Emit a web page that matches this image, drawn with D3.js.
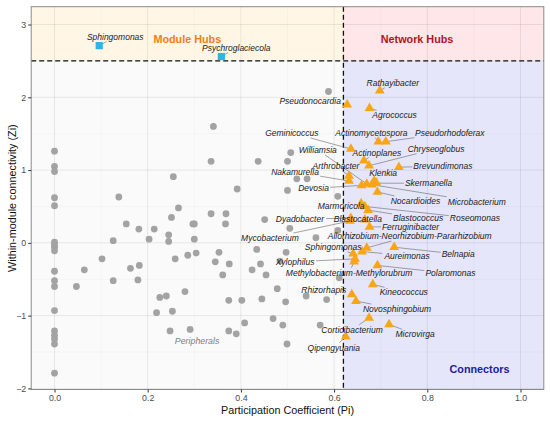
<!DOCTYPE html>
<html>
<head>
<meta charset="utf-8">
<script src="https://cdn.jsdelivr.net/npm/d3@7.9.0/dist/d3.min.js"></script>
<style>
  body { margin: 0; background: #fff; }
  text { font-family: "Liberation Sans", Arial, sans-serif; }
</style>
</head>
<body>
<div id="chart"></div>
<script>
// axis ticks
const xTicks = [0, 0.2, 0.4, 0.6, 0.8, 1.0];
const yTicks = [-2, -1, 0, 1, 2, 3];
const piCut = 0.62;
const ziCut = 2.5;

// peripherals (grey circles)
const peripheralPi = [
  0, 0, 0, 0, 0, 0, 0, 0, 0, 0, 0, 0, 0, 0, 0, 0, 0, 0,
  0.047, 0.064, 0.102, 0.126, 0.126, 0.138, 0.154, 0.163, 0.181, 0.182,
  0.179, 0.203, 0.214, 0.219, 0.226, 0.240, 0.245, 0.245, 0.248, 0.251,
  0.253, 0.255, 0.259, 0.266, 0.280, 0.286, 0.291, 0.297, 0.300, 0.300,
  0.304, 0.336, 0.336, 0.341, 0.345, 0.353, 0.361, 0.367, 0.368, 0.374,
  0.374, 0.375, 0.390, 0.392, 0.402, 0.408, 0.424, 0.434, 0.437, 0.442,
  0.445, 0.451, 0.454, 0.469, 0.478, 0.484, 0.490, 0.496, 0.497, 0.499,
  0.500, 0.500, 0.505, 0.507, 0.520, 0.540, 0.542, 0.561, 0.570, 0.584,
  0.588, 0.608, 0.608, 0.611
];
const peripheralZi = [
  1.26, 1.05, 0.98, 0.62, 0.51, 0.01, -0.03, -0.06, -0.11, -0.39, -0.52, -0.60,
  -0.93, -1.21, -1.27, -1.32, -1.39, -1.79,
  -0.60, -0.37, -0.22, 0.03, -0.52, 0.63, 0.26, -0.35, 0.19, -0.31,
  -0.51, 0.05, 0.19, -0.96, -0.75, -0.73, 0.11, 0.02, -1.21, 0.35,
  -0.94, 0.91, -0.22, 0.48, -0.67, -0.17, -1.19, 0.26, 0.26, 0.05,
  -0.14, 1.12, 0.40, 1.60, -0.26, -0.13, -0.44, 0.26, 0.40, -0.79,
  -1.21, -0.29, -1.25, 0.74, -0.79, -1.10, -0.37, -0.09, 1.12, -0.29,
  -0.77, 0.32, -0.44, -1.04, -0.63, -0.25, -1.13, -0.81, -0.13, -1.39,
  1.12, 0.72, 0.20, 1.24, 0.88, -0.73, 0.88, 0.07, -1.13, -0.78,
  2.08, 0.64, 0.17, -0.48
];

// module hubs (blue squares)
const moduleHubNames = ["Sphingomonas", "Psychroglaciecola"];
const moduleHubPi = [0.096, 0.358];
const moduleHubZi = [2.71, 2.56];

// connectors (orange triangles)
const connectorNames = [
  "Rathayibacter", "Pseudonocardia", "Agrococcus", "Actinomycetospora",
  "Pseudorhodoferax", "Geminicoccus", "Actinoplanes", "Chryseoglobus",
  "Brevundimonas", "Arthrobacter", "Nakamurella", "Devosia", "Williamsia",
  "Roseomonas", "Microbacterium", "Klenkia", "Skermanella", "Nocardioides",
  "Marmoricola", "Blastococcus", "Blastocatella", "Dyadobacter", "Mycobacterium",
  "Ferruginibacter", "Allorhizobium-Neorhizobium-Pararhizobium", "Aureimonas",
  "Sphingomonas", "Xylophilus", "Methylobacterium-Methylorubrum", "Polaromonas",
  "Belnapia", "Kineococcus", "Rhizorhapis", "Novosphingobium", "Corticibacterium",
  "Microvirga", "Qipengyuania"
];
const connectorPi = [
  0.698, 0.628, 0.676, 0.695, 0.711, 0.636, 0.664, 0.675, 0.739, 0.632,
  0.632, 0.659, 0.670, 0.666, 0.681, 0.686, 0.691, 0.693, 0.658, 0.673,
  0.666, 0.636, 0.634, 0.676, 0.670, 0.660, 0.641, 0.645, 0.643, 0.693,
  0.729, 0.683, 0.638, 0.647, 0.675, 0.718, 0.625
];
const connectorZi = [
  2.09, 1.90, 1.85, 1.39, 1.39, 1.29, 1.13, 1.06, 1.04, 0.92,
  0.85, 0.79, 0.81, 0.50, 0.80, 0.85, 0.82, 0.70, 0.54, 0.45,
  0.32, 0.34, 0.30, 0.22, -0.07, -0.12, -0.15, -0.22, -0.26, -0.31,
  -0.06, -0.57, -0.71, -0.80, -1.03, -1.12, -1.29
];

// label nudges in pixels (label centre relative to its point)
const moduleHubNudge = [[16, -9], [15, -9]];
const connectorNudge = [
  [13, -8], [-37, -4], [25, 7], [-7, -9], [64, -9], [-59, -16], [13, -8], [67, -17],
  [44, -1], [-13, -10], [-54, -9], [-48, 3], [-49, -34], [110, 12], [105, 17],
  [9, -8], [52, 0], [38, 9], [-20, 2], [50, 8], [-7, -1], [-51, 1], [-80, 17],
  [41, 0], [43, -12], [45, 4], [-20, -7], [-60, 3], [-5, 11], [73, 8], [64, 7],
  [31, 8], [-28, -5], [41, 8], [-17, 12], [26, 10], [-12, 11]
];

const width = 550;
const height = 422;
const panel = { left: 31.2, right: 543.8, top: 6.7, bottom: 389.5 };

const svg = d3.select('#chart').append('svg')
  .attr('width', width)
  .attr('height', height);

const x = d3.scaleLinear().domain([-0.05, 1.05]).range([panel.left, panel.right]);
const y = d3.scaleLinear().domain([-2.015, 3.245]).range([panel.bottom, panel.top]);

// quadrant backgrounds
const quads = [
  { x0: -0.05, x1: piCut, y0: -2.015, y1: ziCut, fill: '#fafafa' },
  { x0: -0.05, x1: piCut, y0: ziCut, y1: 3.245, fill: '#fff6e6' },
  { x0: piCut, x1: 1.05, y0: ziCut, y1: 3.245, fill: '#ffe6e8' },
  { x0: piCut, x1: 1.05, y0: -2.015, y1: ziCut, fill: '#e6e6fa' }
];
svg.append('g').selectAll('rect')
  .data(quads)
  .join('rect')
  .attr('x', d => x(d.x0))
  .attr('y', d => y(d.y1))
  .attr('width', d => x(d.x1) - x(d.x0))
  .attr('height', d => y(d.y0) - y(d.y1))
  .attr('fill', d => d.fill);

// gridlines
const grid = svg.append('g');
const xMinor = [0.1, 0.3, 0.5, 0.7, 0.9];
const yMinor = [-1.5, -0.5, 0.5, 1.5, 2.5];
grid.selectAll('.xminor').data(xMinor).join('line')
  .attr('x1', d => x(d)).attr('x2', d => x(d))
  .attr('y1', panel.top).attr('y2', panel.bottom)
  .attr('stroke', 'rgba(0,0,0,0.05)').attr('stroke-width', 0.6);
grid.selectAll('.yminor').data(yMinor).join('line')
  .attr('y1', d => y(d)).attr('y2', d => y(d))
  .attr('x1', panel.left).attr('x2', panel.right)
  .attr('stroke', 'rgba(0,0,0,0.05)').attr('stroke-width', 0.6);
grid.selectAll('.xmajor').data(xTicks).join('line')
  .attr('x1', d => x(d)).attr('x2', d => x(d))
  .attr('y1', panel.top).attr('y2', panel.bottom)
  .attr('stroke', 'rgba(0,0,0,0.08)').attr('stroke-width', 1);
grid.selectAll('.ymajor').data(yTicks).join('line')
  .attr('y1', d => y(d)).attr('y2', d => y(d))
  .attr('x1', panel.left).attr('x2', panel.right)
  .attr('stroke', 'rgba(0,0,0,0.08)').attr('stroke-width', 1);

// threshold lines
svg.append('line')
  .attr('x1', x(piCut)).attr('x2', x(piCut))
  .attr('y1', panel.top).attr('y2', panel.bottom)
  .attr('stroke', '#111').attr('stroke-width', 1.3).attr('stroke-dasharray', '5,3');
svg.append('line')
  .attr('x1', panel.left).attr('x2', panel.right)
  .attr('y1', y(ziCut)).attr('y2', y(ziCut))
  .attr('stroke', '#111').attr('stroke-width', 1.3).attr('stroke-dasharray', '5,3');

// region titles
const regions = [
  { text: 'Module Hubs', pi: 0.285, zi: 2.8, color: '#f27d14', weight: 'bold', style: 'normal', size: 10.8 },
  { text: 'Network Hubs', pi: 0.778, zi: 2.8, color: '#b01522', weight: 'bold', style: 'normal', size: 10.8 },
  { text: 'Connectors', pi: 0.912, zi: -1.73, color: '#1c1c9c', weight: 'bold', style: 'normal', size: 10.8 },
  { text: 'Peripherals', pi: 0.306, zi: -1.35, color: '#808080', weight: 'normal', style: 'italic', size: 8.8 }
];
svg.append('g').selectAll('text')
  .data(regions)
  .join('text')
  .attr('x', d => x(d.pi))
  .attr('y', d => y(d.zi))
  .attr('text-anchor', 'middle')
  .attr('dominant-baseline', 'central')
  .attr('fill', d => d.color)
  .attr('font-weight', d => d.weight)
  .attr('font-style', d => d.style)
  .attr('font-size', d => d.size)
  .text(d => d.text);

// grey points
svg.append('g').selectAll('circle')
  .data(peripheralPi.map((p, i) => ({ pi: p, zi: peripheralZi[i] })))
  .join('circle')
  .attr('cx', d => x(d.pi))
  .attr('cy', d => y(d.zi))
  .attr('r', 3.4)
  .attr('fill', '#a3a3a3');

const hubs = moduleHubNames.map((n, i) => ({
  name: n, pi: moduleHubPi[i], zi: moduleHubZi[i], nudge: moduleHubNudge[i], shape: d3.symbolSquare, color: '#2eb5e6', size: 52
}));
const conns = connectorNames.map((n, i) => ({
  name: n, pi: connectorPi[i], zi: connectorZi[i], nudge: connectorNudge[i], shape: d3.symbolTriangle, color: '#f9a516', size: 42
}));
const labelled = hubs.concat(conns);

// labels first (to measure), segments, then symbols
const segG = svg.append('g');
const symG = svg.append('g');
const labG = svg.append('g');

const labels = labG.selectAll('text')
  .data(labelled)
  .join('text')
  .attr('x', d => x(d.pi) + d.nudge[0])
  .attr('y', d => y(d.zi) + d.nudge[1])
  .attr('text-anchor', 'middle')
  .attr('dominant-baseline', 'central')
  .attr('font-size', 8.5)
  .attr('font-style', 'italic')
  .attr('fill', '#222')
  .text(d => d.name);

labels.each(function (d) {
  const b = this.getBBox();
  const px = x(d.pi), py = y(d.zi);
  const cx = b.x + b.width / 2, cy = b.y + b.height / 2;
  const hw = b.width / 2 + 1, hh = b.height / 2;
  const dx = px - cx, dy = py - cy;
  if (Math.abs(dx) <= hw && Math.abs(dy) <= hh) return;
  const t = Math.min(dx !== 0 ? hw / Math.abs(dx) : Infinity, dy !== 0 ? hh / Math.abs(dy) : Infinity);
  const ex = cx + dx * t, ey = cy + dy * t;
  if (Math.hypot(px - ex, py - ey) < 4) return;
  segG.append('line')
    .attr('x1', ex).attr('y1', ey)
    .attr('x2', px).attr('y2', py)
    .attr('stroke', '#666').attr('stroke-width', 0.6);
});

symG.selectAll('path')
  .data(labelled)
  .join('path')
  .attr('transform', d => `translate(${x(d.pi)},${y(d.zi)})`)
  .attr('d', d => d3.symbol().type(d.shape).size(d.size)())
  .attr('fill', d => d.color);

// panel border
svg.append('rect')
  .attr('x', panel.left).attr('y', panel.top)
  .attr('width', panel.right - panel.left)
  .attr('height', panel.bottom - panel.top)
  .attr('fill', 'none')
  .attr('stroke', '#8a8a8a')
  .attr('stroke-width', 1);

// axes
const xAxis = svg.append('g')
  .attr('transform', `translate(0,${panel.bottom})`)
  .call(d3.axisBottom(x).tickValues(xTicks).tickFormat(d3.format('.1f')).tickSize(3).tickPadding(2));
const yAxis = svg.append('g')
  .attr('transform', `translate(${panel.left},0)`)
  .call(d3.axisLeft(y).tickValues(yTicks).tickFormat(d3.format('d')).tickSize(3).tickPadding(2));
[xAxis, yAxis].forEach(g => {
  g.select('.domain').remove();
  g.selectAll('.tick line').attr('stroke', '#333');
  g.selectAll('.tick text')
    .attr('fill', '#4d4d4d')
    .attr('font-size', 8.8)
    .style('font-family', '"Liberation Sans", Arial, sans-serif');
});

svg.append('text')
  .attr('x', (panel.left + panel.right) / 2)
  .attr('y', 410)
  .attr('text-anchor', 'middle')
  .attr('dominant-baseline', 'central')
  .attr('font-size', 10.8)
  .attr('fill', '#111')
  .text('Participation Coefficient (Pi)');

svg.append('text')
  .attr('transform', `translate(12,${(panel.top + panel.bottom) / 2}) rotate(-90)`)
  .attr('text-anchor', 'middle')
  .attr('dominant-baseline', 'central')
  .attr('font-size', 10.8)
  .attr('fill', '#111')
  .text('Within-module connectivity (Zi)');
</script>
</body>
</html>
